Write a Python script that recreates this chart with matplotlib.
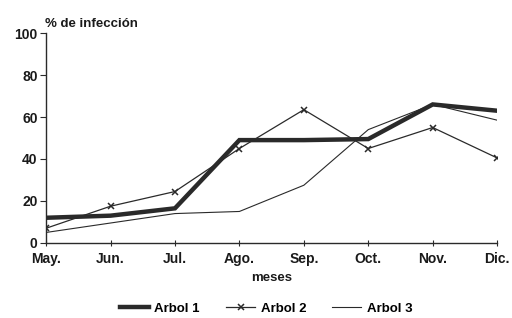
import matplotlib
matplotlib.use("Agg")
import matplotlib.pyplot as plt

months = ["May.", "Jun.", "Jul.", "Ago.", "Sep.", "Oct.", "Nov.", "Dic."]
arbol1 = [12, 13, 16.5, 49, 49, 49.5, 66, 63]
arbol2 = [7, 17.5, 24.5, 45, 63.5, 45, 55, 40.5]
arbol3 = [5, 9.5, 14, 15, 27.5, 54, 66, 58.5]

plt.rcParams['font.family'] = ['Liberation Sans', 'DejaVu Sans']
plt.rcParams['font.weight'] = 'bold'
plt.rcParams['axes.labelweight'] = 'bold'
fig = plt.figure(figsize=(5.12, 3.18), dpi=100)
ax = fig.add_axes([0.09, 0.236, 0.881, 0.66])
x = list(range(len(months)))
c = "#2a2a2a"
tc = "#1a1a1a"
ax.plot(x, arbol1, color=c, lw=3.2, label="Arbol 1", solid_joinstyle='miter')
ax.plot(x, arbol2, color=c, lw=0.9, marker='x', ms=5, mew=1.1, label="Arbol 2")
ax.plot(x, arbol3, color=c, lw=0.8, label="Arbol 3")

ax.set_xlim(0, 7)
ax.set_ylim(0, 100)
ax.set_xticks(x)
ax.set_xticklabels(months, fontsize=10)
ax.set_yticks([0, 20, 40, 60, 80, 100])
ax.tick_params(axis='y', labelsize=10, length=4, width=0.8, color=c, pad=2, labelcolor=tc)
ax.tick_params(axis='x', labelsize=10, length=5, width=0.8, direction='inout', color=c, pad=4, labelcolor=tc)
for s in ['top', 'right']:
    ax.spines[s].set_visible(False)
for s in ['left', 'bottom']:
    ax.spines[s].set_color(c)
    ax.spines[s].set_linewidth(1.0)

fig.text(0.088, 0.905, "% de infección", fontsize=9.5, ha='left', va='bottom', color=tc)
ax.set_xlabel("meses", fontsize=9.5, labelpad=4, color=tc)

fig.legend(loc='lower center', bbox_to_anchor=(0.52, -0.028), ncol=3, frameon=False,
           fontsize=9.5, handlelength=2.2, columnspacing=2.0, handletextpad=0.4)

fig.savefig("out.png", dpi=100)
